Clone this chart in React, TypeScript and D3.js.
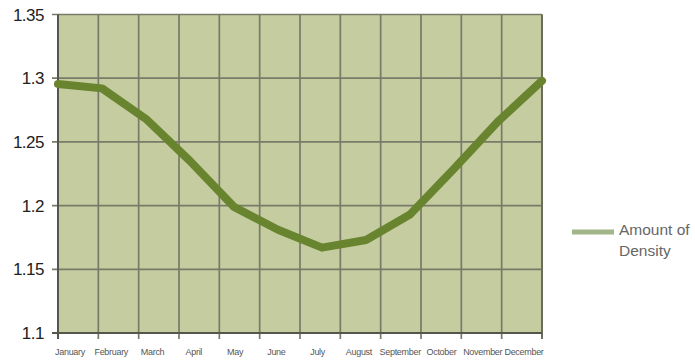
import React from "react";
import * as d3 from "d3";

const months = ["January", "February", "March", "April", "May", "June", "July", "August", "September", "October", "November", "December"];
const density = [1.2955, 1.292, 1.268, 1.235, 1.199, 1.181, 1.167, 1.173, 1.193, 1.229, 1.266, 1.298];
const yTicks = [1.1, 1.15, 1.2, 1.25, 1.3, 1.35];
const yTickLabels = ["1.1", "1.15", "1.2", "1.25", "1.3", "1.35"];
const seriesName = ["Amount of", "Density"];

const W = 695;
const H = 363;
const left = 58;
const right = 542;
const top = 14.5;
const bottom = 333;

export default function App() {
  const x = d3.scalePoint<string>().domain(months).range([left, right]);
  const xLabel = d3.scalePoint<string>().domain(months).range([70, 524]);
  const y = d3.scaleLinear().domain([1.1, 1.35]).range([bottom, top]);
  const grid = d3.scaleLinear().domain([0, 12]).range([left, right]);
  const vLines = d3.range(13);

  const line = d3
    .line<number>()
    .x((_, i) => x(months[i]) as number)
    .y((d) => y(d))
    .curve(d3.curveLinear);

  return (
    <svg width={W} height={H} style={{ position: "absolute", left: 0, top: 0 }} fontFamily="'Liberation Sans', Arial, sans-serif">
      <defs>
        <filter id="soft" x="-5%" y="-5%" width="110%" height="110%">
          <feGaussianBlur stdDeviation="0.7" />
        </filter>
      </defs>
      <rect x={left} y={top} width={right - left} height={bottom - top} fill="#c4cca0" />
      {yTicks.map((t) => (
        <line key={"h" + t} x1={left - 6} x2={right} y1={y(t)} y2={y(t)} stroke="#787b68" strokeWidth={1.7} />
      ))}
      {vLines.map((i) => (
        <line key={"v" + i} x1={grid(i)} x2={grid(i)} y1={top} y2={bottom + 6} stroke="#787b68" strokeWidth={1.7} />
      ))}
      <line x1={left} x2={left} y1={top} y2={bottom + 6} stroke="#55574c" strokeWidth={2} />
      <line x1={right} x2={right} y1={top} y2={bottom + 6} stroke="#6a6c5e" strokeWidth={2} />
      <line x1={left - 6} x2={right} y1={bottom} y2={bottom} stroke="#55574c" strokeWidth={2.2} />
      {yTicks.map((t, i) => (
        <text key={"yl" + t} x={44} y={y(t) + 6} textAnchor="end" fontSize={17} fill="#222" letterSpacing={-0.5}>
          {yTickLabels[i]}
        </text>
      ))}
      {months.map((m) => (
        <text key={"xl" + m} x={xLabel(m)} y={355} textAnchor="middle" fontSize={9} fill="#555" letterSpacing={-0.3}>
          {m}
        </text>
      ))}
      <path d={line(density) || ""} fill="none" stroke="#68842f" strokeWidth={8} strokeLinejoin="round" strokeLinecap="round" filter="url(#soft)" />
      <line x1={572} x2={614} y1={232} y2={232} stroke="#a2b688" strokeWidth={5} />
      {seriesName.map((s, i) => (
        <text key={s} x={619} y={235 + i * 21} fontSize={15.5} fill="#666">
          {s}
        </text>
      ))}
    </svg>
  );
}
